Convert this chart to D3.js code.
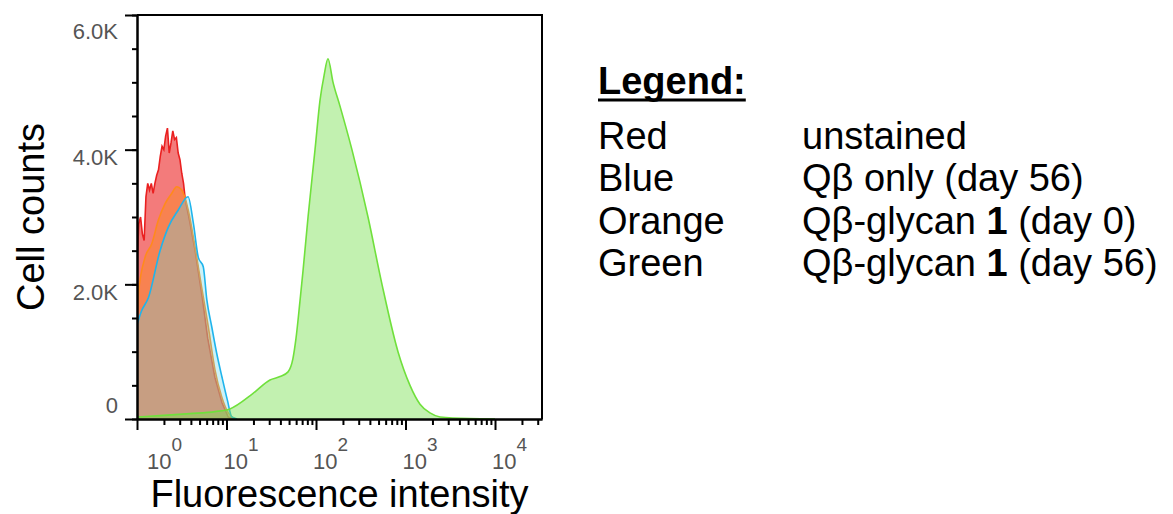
<!DOCTYPE html>
<meta charset="utf-8">
<style>
body { margin: 0; background: #fff; }
svg { font-family: Arial, "Liberation Sans", sans-serif; }
.axis path, .axis line { stroke: #000; stroke-width: 2px; }
.lab { fill: #555; font-size: 22px; }
.title { fill: #000; font-size: 38px; }
.leg { fill: #000; font-size: 38px; }
</style>
<svg width="1173" height="514"></svg>
<script src="https://d3js.org/d3.v7.min.js"></script>
<script>
// fluorescence intensity (channel value) and cell counts (thousands)
var redX   = [1.0,1.047,1.096,1.148,1.202,1.259,1.318,1.38,1.445,1.514,1.585,1.66,1.738,1.82,1.905,1.995,2.089,2.188,2.291,2.399,2.512,2.63,2.754,2.884,3.02,3.162,3.311,3.467,3.802,4.467,5.37,6.166,7.413,8.913,10.47,12.59];
var redY   = [2.3,2.9,3.0,2.75,2.65,3.3,3.5,3.4,3.5,3.35,3.5,3.62,3.7,3.9,4.05,4.0,4.2,4.32,3.95,4.1,4.28,4.15,4.18,3.95,3.85,3.65,3.5,3.25,3.0,2.5,1.8,1.2,0.62,0.24,0.03,0];
var orangeX = [1.0,1.035,1.23,1.46,1.73,2.06,2.44,2.77,3.16,3.74,4.45,5.27,6.26,7.43,8.83,10.47,12.45];
var orangeY = [1.6,1.85,2.4,2.6,2.95,3.2,3.35,3.45,3.4,3.1,2.55,1.96,1.37,0.73,0.33,0.09,0];
var blueX  = [1.0,1.12,1.34,1.81,2.24,2.88,3.72,4.27,4.84,5.5,6.03,6.84,7.76,8.91,10.23,11.48,13.18];
var blueY  = [1.4,1.6,1.8,2.5,2.85,3.1,3.3,2.9,2.4,2.26,1.77,1.37,0.98,0.62,0.28,0.03,0];
var greenX = [1.0,1.81,3.91,7.44,10.9,19.8,30.6,39.6,48.7,55.3,59.8,66.2,71.6,81.5,97.5,111,123,136,155,185,252,381,546,824,1122,1452,1879,2427,5260,10000];
var greenY = [0.03,0.05,0.08,0.11,0.15,0.38,0.58,0.63,0.70,0.90,1.2,1.75,2.2,3.0,4.0,4.74,5.1,5.35,5.0,4.65,4.0,3.0,2.0,1.0,0.5,0.22,0.09,0.03,0.005,0];

var xMajor = [1, 10, 100, 1000, 10000];
var xExps = ["0", "1", "2", "3", "4"];
var yMajor = [0, 2000, 4000, 6000];
var yTickLabels = ["0", "2.0K", "4.0K", "6.0K"];

var legendNames = ["Red", "Blue", "Orange", "Green"];
var legendText = [["unstained", "", ""], ["Q\u03b2 only (day 56)", "", ""],
                  ["Q\u03b2-glycan ", "1", " (day 0)"], ["Q\u03b2-glycan ", "1", " (day 56)"]];

var svg = d3.select("svg"),
    pLeft = 137, pRight = 542, pTop = 15, pBottom = 419;

var x = d3.scaleLog().domain([1, Math.pow(10, 4.525)]).range([pLeft, pRight]);
var y = d3.scaleLinear().domain([0, 6000]).range([pBottom, pTop]);

var series = [
  {xs: redX, ys: redY, fill: "rgb(235,35,35)", op: 0.6, stroke: "#ea2020", curve: d3.curveLinear},
  {xs: orangeX, ys: orangeY, fill: "rgb(255,140,30)", op: 0.45, stroke: "#ff8a1c", curve: d3.curveMonotoneX},
  {xs: blueX, ys: blueY, fill: "rgb(100,215,230)", op: 0.33, stroke: "#1fb4ec", curve: d3.curveMonotoneX},
  {xs: greenX, ys: greenY, fill: "rgb(120,225,80)", op: 0.45, stroke: "#70e03c", curve: d3.curveMonotoneX}
];

svg.append("clipPath").attr("id", "clip").append("rect")
  .attr("x", pLeft).attr("y", pTop).attr("width", pRight - pLeft).attr("height", pBottom - pTop);

var plot = svg.append("g").attr("clip-path", "url(#clip)");
series.forEach(function(s) {
  var pts = s.xs.map(function(v, i) { return [v, s.ys[i] * 1000]; });
  var area = d3.area().curve(s.curve)
    .x(function(d) { return x(d[0]); }).y0(y(0)).y1(function(d) { return y(d[1]); });
  var line = d3.line().curve(s.curve)
    .x(function(d) { return x(d[0]); }).y(function(d) { return y(d[1]); });
  plot.append("path").datum(pts).attr("d", area)
    .attr("fill", s.fill).attr("fill-opacity", s.op);
  plot.append("path").datum(pts).attr("d", line)
    .attr("fill", "none").attr("stroke", s.stroke).attr("stroke-width", 1.6);
});

// frame top/right
svg.append("path").attr("d", "M" + pLeft + "," + pTop + "H" + pRight + "V" + pBottom)
  .attr("fill", "none").attr("stroke", "#000").attr("stroke-width", 2);

// x axis: minor log ticks + major decades
var xMinor = [];
xMajor.forEach(function(p) { for (var k = 2; k <= 9; k++) if (p * k <= x.domain()[1]) xMinor.push(p * k); });
svg.append("g").attr("class", "axis").attr("transform", "translate(0," + pBottom + ")")
  .call(d3.axisBottom(x).tickValues(xMinor).tickSize(6).tickSizeOuter(0).tickFormat(""));
svg.append("g").attr("class", "axis").attr("transform", "translate(0," + pBottom + ")")
  .call(d3.axisBottom(x).tickValues(xMajor).tickSize(11).tickSizeOuter(0).tickFormat(""))
  .selectAll(".tick line").attr("stroke-width", 3);

var xl = svg.append("g");
xMajor.forEach(function(v, i) {
  var t = xl.append("text").attr("class", "lab")
    .attr("x", Math.max(x(v) - 3, pLeft + 10)).attr("y", 469);
  t.append("tspan").text("10");
  t.append("tspan").attr("dy", -18).attr("font-size", 19).text(xExps[i]);
});

// y axis
svg.append("g").attr("class", "axis").attr("transform", "translate(" + pLeft + ",0)")
  .call(d3.axisLeft(y).tickValues(d3.range(0, 6001, 500)).tickSize(5).tickSizeOuter(0).tickFormat(""));
svg.append("g").attr("class", "axis").attr("transform", "translate(" + pLeft + ",0)")
  .call(d3.axisLeft(y).tickValues(yMajor).tickSize(12).tickSizeOuter(0).tickFormat(""))
  .selectAll(".tick line").attr("stroke-width", 3);

svg.append("g").selectAll("text").data(yMajor).join("text").attr("class", "lab")
  .attr("x", 118).attr("text-anchor", "end").attr("dy", "0.35em")
  .attr("y", function(d) { return Math.min(Math.max(y(d) + 8, pTop + 16), pBottom - 14); })
  .text(function(d, i) { return yTickLabels[i]; });

// axis titles
svg.append("text").attr("class", "title").attr("text-anchor", "middle")
  .attr("x", (pLeft + pRight) / 2).attr("y", 507).text("Fluorescence intensity");
svg.append("text").attr("class", "title").attr("text-anchor", "middle")
  .attr("transform", "translate(44," + (pTop + pBottom) / 2 + ") rotate(-90)").text("Cell counts");

// legend
var lg = svg.append("g");
var head = lg.append("text").attr("class", "leg").attr("font-weight", "bold")
  .attr("x", 598).attr("y", 94).text("Legend:");
var hw = head.node().getComputedTextLength();
lg.append("line").attr("x1", 598).attr("x2", 598 + hw).attr("y1", 100).attr("y2", 100)
  .attr("stroke", "#000").attr("stroke-width", 3);
legendNames.forEach(function(n, i) {
  var yy = 149 + i * 42.3;
  lg.append("text").attr("class", "leg").attr("x", 598).attr("y", yy).text(n);
  var t = lg.append("text").attr("class", "leg").attr("x", 802).attr("y", yy);
  t.append("tspan").text(legendText[i][0]);
  if (legendText[i][1]) t.append("tspan").attr("font-weight", "bold").text(legendText[i][1]);
  if (legendText[i][2]) t.append("tspan").text(legendText[i][2]);
});
</script>
